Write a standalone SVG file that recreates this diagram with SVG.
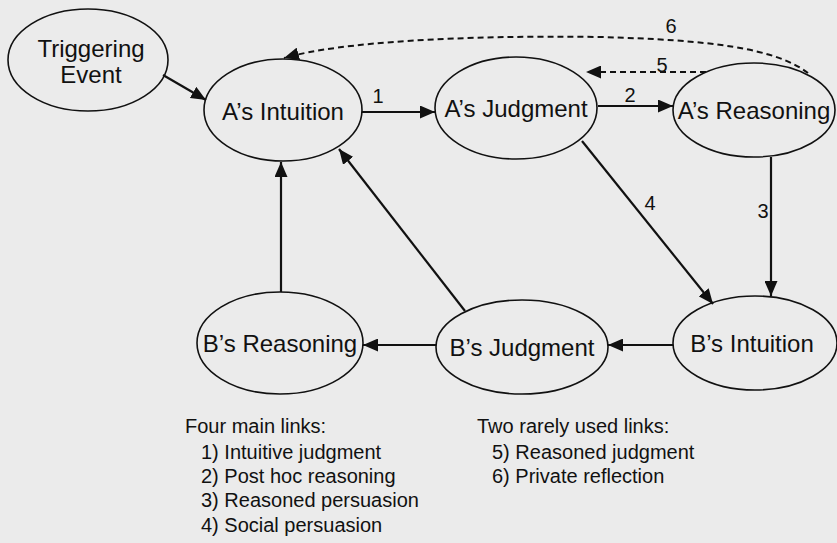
<svg xmlns="http://www.w3.org/2000/svg" width="837" height="543" viewBox="0 0 837 543">
<style>
.node ellipse{fill:none;stroke:#111;stroke-width:1.6}
.node text{font-family:"Liberation Sans",Arial,sans-serif;font-size:24px;fill:#111;text-anchor:middle}
.edge{fill:none;stroke:#111;stroke-width:2.2}
.dash{fill:none;stroke:#111;stroke-width:2;stroke-dasharray:6 4}
.lbl{font-family:"Liberation Sans",Arial,sans-serif;font-size:20px;fill:#111;text-anchor:middle}
.leg{font-family:"Liberation Sans",Arial,sans-serif;font-size:20px;fill:#111}
</style>
<defs>
<marker id="ah" markerUnits="userSpaceOnUse" markerWidth="15" markerHeight="13" refX="15" refY="6.5" orient="auto">
<path d="M0,0 L15,6.5 L0,13 z" fill="#111"/>
</marker>
</defs>
<rect width="837" height="543" fill="#ebebeb"/>
<g id="connectors">
<path class="edge" d="M163 75 L206 100" marker-end="url(#ah)"/>
<path class="edge" d="M362 112 L435 112" marker-end="url(#ah)"/>
<path class="edge" d="M598 106 L673 106" marker-end="url(#ah)"/>
<path class="dash" d="M706 72 L586 72" marker-end="url(#ah)"/>
<path class="dash" d="M808 73 C775 48 710 40 600 37 C460 35 340 42 284 58" marker-end="url(#ah)"/>
<path class="edge" d="M771 157 L771 296" marker-end="url(#ah)"/>
<path class="edge" d="M582 141 L713 304" marker-end="url(#ah)"/>
<path class="edge" d="M673 345 L608 345" marker-end="url(#ah)"/>
<path class="edge" d="M436 345 L363 345" marker-end="url(#ah)"/>
<path class="edge" d="M281 292 L281 162" marker-end="url(#ah)"/>
<path class="edge" d="M465 311 L339 149" marker-end="url(#ah)"/>
<text class="lbl" x="378" y="103">1</text>
<text class="lbl" x="630" y="102">2</text>
<text class="lbl" x="763" y="218">3</text>
<text class="lbl" x="650" y="210">4</text>
<text class="lbl" x="662" y="72">5</text>
<text class="lbl" x="671" y="33">6</text>
</g>
<g id="triggering-event" class="node"><ellipse cx="88" cy="60" rx="80" ry="51"/><text x="91" y="57">Triggering</text><text x="91" y="83">Event</text></g>
<g id="a-intuition" class="node"><ellipse cx="283" cy="110" rx="79" ry="51"/><text x="283" y="120">A’s Intuition</text></g>
<g id="a-judgment" class="node"><ellipse cx="516" cy="108" rx="81" ry="51"/><text x="516" y="117">A’s Judgment</text></g>
<g id="a-reasoning" class="node"><ellipse cx="754" cy="110" rx="81" ry="47"/><text x="754" y="119">A’s Reasoning</text></g>
<g id="b-reasoning" class="node"><ellipse cx="280" cy="343" rx="83" ry="51"/><text x="280" y="352">B’s Reasoning</text></g>
<g id="b-judgment" class="node"><ellipse cx="522" cy="347" rx="86" ry="47"/><text x="522" y="356">B’s Judgment</text></g>
<g id="b-intuition" class="node"><ellipse cx="755" cy="343" rx="82" ry="47"/><text x="752" y="352">B’s Intuition</text></g>
<g id="legend">
<text class="leg" x="185" y="433">Four main links:</text>
<text class="leg" x="201" y="459">1) Intuitive judgment</text>
<text class="leg" x="201" y="483">2) Post hoc reasoning</text>
<text class="leg" x="201" y="507">3) Reasoned persuasion</text>
<text class="leg" x="201" y="532">4) Social persuasion</text>
<text class="leg" x="477" y="433">Two rarely used links:</text>
<text class="leg" x="492" y="459">5) Reasoned judgment</text>
<text class="leg" x="492" y="483">6) Private reflection</text>
</g>
</svg>
